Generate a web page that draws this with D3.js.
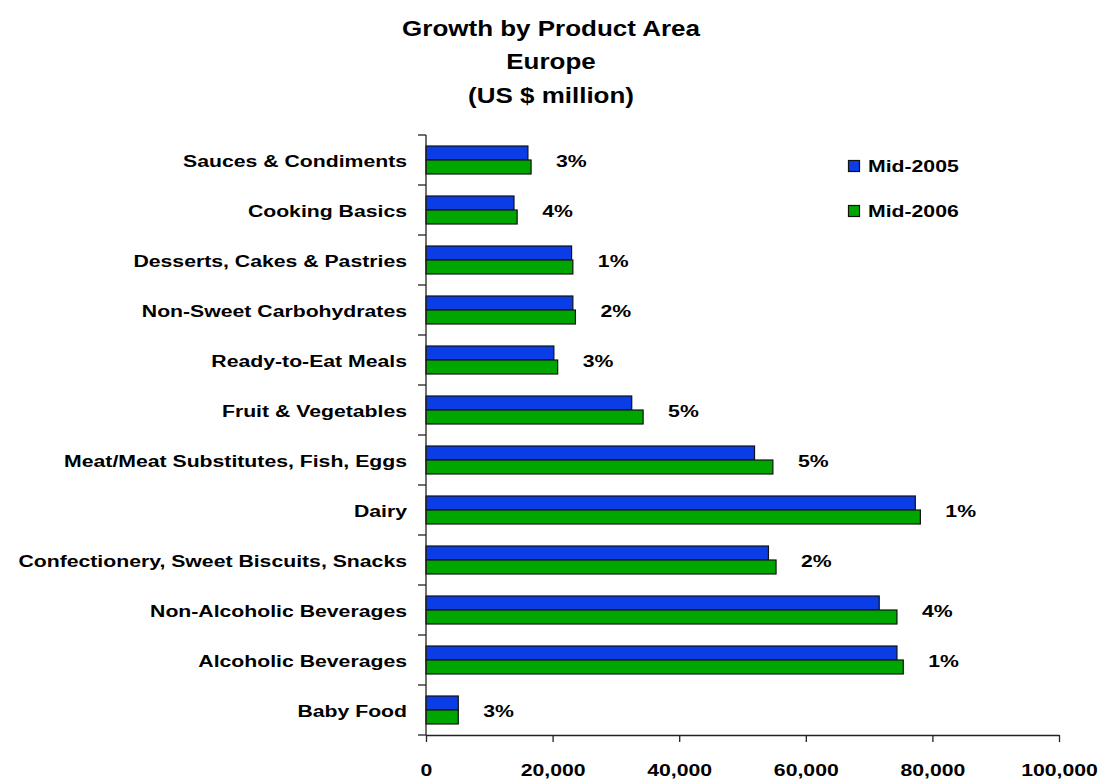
<!DOCTYPE html>
<html>
<head>
<meta charset="utf-8">
<script src="https://cdn.jsdelivr.net/npm/d3@7"></script>
<style>
  html, body { margin: 0; padding: 0; background: #ffffff; }
  svg { display: block; }
  text { font-family: "Liberation Sans", Arial, Helvetica, sans-serif; font-weight: bold; fill: #000; }
</style>
</head>
<body>
<svg id="chart" width="1104" height="779"></svg>
<script>
// Product areas, top to bottom
const categories = [
  "Sauces & Condiments",
  "Cooking Basics",
  "Desserts, Cakes & Pastries",
  "Non-Sweet Carbohydrates",
  "Ready-to-Eat Meals",
  "Fruit & Vegetables",
  "Meat/Meat Substitutes, Fish, Eggs",
  "Dairy",
  "Confectionery, Sweet Biscuits, Snacks",
  "Non-Alcoholic Beverages",
  "Alcoholic Beverages",
  "Baby Food"
];

// Market size, US $ million
const mid2005 = [16100, 13900, 23000, 23200, 20200, 32500, 51900, 77300, 54100, 71600, 74400, 5100];
const mid2006 = [16600, 14400, 23200, 23600, 20800, 34300, 54800, 78100, 55300, 74400, 75400, 5100];

// Growth labels shown beside each pair of bars
const growth = ["3%", "4%", "1%", "2%", "3%", "5%", "5%", "1%", "2%", "4%", "1%", "3%"];

const seriesNames = ["Mid-2005", "Mid-2006"];
const seriesColors = ["#0a3de6", "#00a600"];

const xTicks = [0, 20000, 40000, 60000, 80000, 100000];
const titleLines = ["Growth by Product Area", "Europe", "(US $ million)"];

// Text is drawn wide, with a horizontal stretch
const SX = 1.22;

const svg = d3.select("#chart");

const x = d3.scaleLinear().domain([0, 100000]).range([426, 1059]);
const y = d3.scaleBand().domain(categories).range([135, 735]).paddingInner(0).paddingOuter(0);
const barH = 14;

// stretched text helper
function stretchedText(parent, tx, ty, str, size, anchor) {
  return parent.append("text")
    .attr("transform", `translate(${tx},${ty}) scale(${SX},1)`)
    .attr("text-anchor", anchor)
    .style("font-size", size + "px")
    .text(str);
}

// Title
titleLines.forEach((t, i) => {
  stretchedText(svg, 551, 35.5 + i * 33.5, t, 21.3, "middle");
});

// Bars
const series = [mid2005, mid2006];
const barsG = svg.append("g");
series.forEach((vals, s) => {
  barsG.selectAll(null)
    .data(categories)
    .enter()
    .append("rect")
    .attr("x", x(0))
    .attr("y", (d) => y(d) + y.bandwidth() / 2 - barH + s * barH)
    .attr("width", (d, i) => x(vals[i]) - x(0))
    .attr("height", barH)
    .attr("fill", seriesColors[s])
    .attr("stroke", "#111")
    .attr("stroke-width", 1.2);
});

// Growth labels
categories.forEach((c, i) => {
  const vmax = Math.max(mid2005[i], mid2006[i]);
  stretchedText(svg, x(vmax) + 25, y(c) + y.bandwidth() / 2 + 7, growth[i], 17.4, "start");
});

// Y axis: line with ticks at category boundaries
const yAxisG = svg.append("g");
yAxisG.append("line")
  .attr("x1", x(0)).attr("x2", x(0))
  .attr("y1", y.range()[0]).attr("y2", y.range()[1])
  .attr("stroke", "#222").attr("stroke-width", 1.3);
const bounds = categories.map((c) => y(c)).concat([y.range()[1]]);
yAxisG.selectAll(null)
  .data(bounds)
  .enter()
  .append("line")
  .attr("x1", x(0) - 8).attr("x2", x(0))
  .attr("y1", (d) => d).attr("y2", (d) => d)
  .attr("stroke", "#222").attr("stroke-width", 1.3);

// Category labels
categories.forEach((c) => {
  stretchedText(svg, 407, y(c) + y.bandwidth() / 2 + 7, c, 17.4, "end");
});

// X axis
const xAxis = d3.axisBottom(x)
  .tickValues(xTicks)
  .tickSize(7)
  .tickSizeOuter(0)
  .tickFormat(d3.format(","));
const xAxisG = svg.append("g")
  .attr("transform", `translate(0,${y.range()[1]})`)
  .call(xAxis);
xAxisG.select(".domain").attr("stroke", "#222").attr("stroke-width", 1.3);
xAxisG.selectAll(".tick line").attr("stroke", "#222").attr("stroke-width", 1.3);
xAxisG.selectAll(".tick text")
  .attr("y", 0)
  .attr("dy", 0)
  .attr("transform", `translate(0,41) scale(${SX},1)`)
  .attr("fill", "#000")
  .style("font-family", '"Liberation Sans", Arial, sans-serif')
  .style("font-weight", "bold")
  .style("font-size", "17.4px");

// Legend
const legend = svg.append("g");
seriesNames.forEach((name, i) => {
  const ly = 166 + i * 45;
  legend.append("rect")
    .attr("x", 848.5).attr("y", ly - 5.5)
    .attr("width", 11).attr("height", 11)
    .attr("fill", seriesColors[i])
    .attr("stroke", "#111").attr("stroke-width", 1.2);
  stretchedText(legend, 868, ly + 6, name, 17.4, "start");
});
</script>
</body>
</html>
